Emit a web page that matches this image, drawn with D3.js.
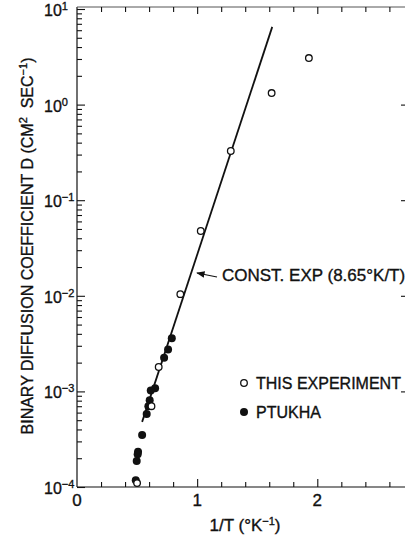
<!DOCTYPE html>
<html>
<head>
<meta charset="utf-8">
<script src="https://cdn.jsdelivr.net/npm/d3@7/dist/d3.min.js"></script>
<style>
  body { margin: 0; background: #fff; }
  svg text { font-family: "Liberation Sans", Arial, sans-serif; fill: #111; stroke: #111; stroke-width: 0.35; }
  .axis path, .axis line { stroke: #111; stroke-width: 1.1; }
</style>
</head>
<body>
<script>
// this experiment (open circles)
const exp_x = [0.50, 0.62, 0.68, 0.86, 1.03, 1.28, 1.62, 1.93]
const exp_d = [1.1e-4, 7.0e-4, 1.8e-3, 1.04e-2, 4.76e-2, 0.327, 1.32, 3.07]

// Ptukha (filled circles)
const ptu_x = [0.789, 0.758, 0.725, 0.65, 0.614, 0.605, 0.594, 0.58, 0.542, 0.508, 0.505, 0.497, 0.489]
const ptu_d = [3.59e-3, 2.75e-3, 2.25e-3, 1.08e-3, 1.02e-3, 8.1e-4, 7.0e-4, 5.8e-4, 3.5e-4, 2.34e-4, 2.2e-4, 1.87e-4, 1.18e-4]

// const exp(8.65 K/T) line end points
const line_x = [0.542, 1.625]
const line_d = [4.8e-4, 6.5]

const x_ticks = [0, 1, 2]
const y_decades = [1e-4, 1e-3, 1e-2, 1e-1, 1, 10]
const y_exps = ["-4", "-3", "-2", "-1", "0", "1"]

const width = 406, height = 537
const m_left = 77, m_right = 405, m_top = 9, m_bottom = 487

const svg = d3.select("body").append("svg")
	.attr("width", width)
	.attr("height", height)

const x = d3.scaleLinear().domain([0, 2.73]).range([m_left, m_right])
const y = d3.scaleLog().domain([1e-4, 10]).range([m_bottom, m_top])

// minor ticks
const x_minor = d3.range(0.2, 2.73, 0.2).filter(v => Math.abs(v - Math.round(v)) > 0.01)
const y_minor = []
y_decades.slice(0, -1).forEach(d => { for (let k = 2; k <= 9; k++) y_minor.push(d * k) })

// frame lines
svg.append("line").attr("x1", m_left).attr("x2", m_left).attr("y1", m_top - 2).attr("y2", m_bottom).attr("stroke", "#111").attr("stroke-width", 1.2)
svg.append("line").attr("x1", m_left).attr("x2", m_right).attr("y1", m_bottom).attr("y2", m_bottom).attr("stroke", "#111").attr("stroke-width", 1.2)
svg.append("line").attr("x1", m_left).attr("x2", m_right).attr("y1", m_top - 2).attr("y2", m_top - 2).attr("stroke", "#555").attr("stroke-width", 1)

// left axis
svg.append("g").classed("axis", true)
	.attr("transform", `translate(${m_left},0)`)
	.call(d3.axisLeft(y).tickValues(y_decades).tickSize(-8).tickFormat(""))
	.call(g => g.select(".domain").remove())
svg.append("g").classed("axis", true)
	.attr("transform", `translate(${m_left},0)`)
	.call(d3.axisLeft(y).tickValues(y_minor).tickSize(-5).tickFormat(""))
	.call(g => g.select(".domain").remove())

// right side decade ticks
svg.append("g").classed("axis", true)
	.attr("transform", `translate(${m_right},0)`)
	.call(d3.axisRight(y).tickValues(y_decades.slice(1, -1)).tickSize(-4).tickFormat(""))
	.call(g => g.select(".domain").remove())

// bottom axis
svg.append("g").classed("axis", true)
	.attr("transform", `translate(0,${m_bottom})`)
	.call(d3.axisBottom(x).tickValues([1, 2]).tickSize(-8).tickFormat(""))
	.call(g => g.select(".domain").remove())
svg.append("g").classed("axis", true)
	.attr("transform", `translate(0,${m_bottom})`)
	.call(d3.axisBottom(x).tickValues(x_minor).tickSize(-5).tickFormat(""))
	.call(g => g.select(".domain").remove())

// top axis
svg.append("g").classed("axis", true)
	.attr("transform", `translate(0,${m_top - 2})`)
	.call(d3.axisTop(x).tickValues([1, 2]).tickSize(-7).tickFormat(""))
	.call(g => g.select(".domain").remove())
svg.append("g").classed("axis", true)
	.attr("transform", `translate(0,${m_top - 2})`)
	.call(d3.axisTop(x).tickValues(x_minor).tickSize(-5).tickFormat(""))
	.call(g => g.select(".domain").remove())

// x tick labels
svg.append("g").selectAll("text")
	.data(x_ticks)
	.join("text")
	.attr("x", d => x(d))
	.attr("y", 506)
	.attr("text-anchor", "middle")
	.style("font-size", "17px")
	.text(d => d)

// y tick labels with superscripts
const ylab = svg.append("g").selectAll("text")
	.data(y_decades)
	.join("text")
	.attr("x", 44)
	.attr("y", d => y(d) + 7)
	.style("font-size", "16px")
ylab.append("tspan").text("10")
ylab.append("tspan")
	.attr("dy", -6)
	.style("font-size", "11px")
	.text((d, i) => y_exps[i].replace("-", "\u2212"))

// axis titles
const ytitle = svg.append("text")
	.attr("transform", "translate(33,246) rotate(-90)")
	.attr("text-anchor", "middle")
	.style("font-size", "16px")
ytitle.append("tspan").text("BINARY DIFFUSION COEFFICIENT D (CM")
ytitle.append("tspan").attr("dy", -6).style("font-size", "11px").text("2")
ytitle.append("tspan").attr("dy", 6).text("\u00a0 SEC")
ytitle.append("tspan").attr("dy", -6).style("font-size", "11px").text("\u22121")
ytitle.append("tspan").attr("dy", 6).text(")")

const xtitle = svg.append("text")
	.attr("x", 245)
	.attr("y", 531)
	.attr("text-anchor", "middle")
	.style("font-size", "17px")
xtitle.append("tspan").text("1/T (\u00b0K")
xtitle.append("tspan").attr("dy", -6).style("font-size", "11px").text("\u22121")
xtitle.append("tspan").attr("dy", 6).text(")")

// fitted line
svg.append("line")
	.attr("x1", x(line_x[0])).attr("y1", y(line_d[0]))
	.attr("x2", x(line_x[1])).attr("y2", y(line_d[1]))
	.attr("stroke", "#111")
	.attr("stroke-width", 1.8)

// annotation
svg.append("defs").append("marker")
	.attr("id", "arrow")
	.attr("viewBox", "0 0 10 10")
	.attr("refX", 9).attr("refY", 5)
	.attr("markerWidth", 7).attr("markerHeight", 7)
	.attr("orient", "auto")
	.append("path").attr("d", "M0,1 L10,5 L0,9 Z").attr("fill", "#111")
svg.append("line")
	.attr("x1", 217).attr("y1", 277)
	.attr("x2", 197).attr("y2", 273)
	.attr("stroke", "#111").attr("stroke-width", 1.2)
	.attr("marker-end", "url(#arrow)")
svg.append("text")
	.attr("x", 222).attr("y", 281)
	.style("font-size", "17px")
	.text("CONST. EXP (8.65\u00b0K/T)")

// points
svg.append("g").selectAll("circle")
	.data(ptu_x.map((v, i) => [v, ptu_d[i]]))
	.join("circle")
	.attr("cx", d => x(d[0])).attr("cy", d => y(d[1]))
	.attr("r", 4)
	.attr("fill", "#111")
svg.append("g").selectAll("circle")
	.data(exp_x.map((v, i) => [v, exp_d[i]]))
	.join("circle")
	.attr("cx", d => x(d[0])).attr("cy", d => y(d[1]))
	.attr("r", 3.3)
	.attr("fill", "#fff")
	.attr("stroke", "#111")
	.attr("stroke-width", 1.3)

// legend
const legend = svg.append("g")
legend.append("circle").attr("cx", 244).attr("cy", 383).attr("r", 3.3)
	.attr("fill", "#fff").attr("stroke", "#111").attr("stroke-width", 1.3)
legend.append("text").attr("x", 256).attr("y", 389).style("font-size", "16px").text("THIS EXPERIMENT")
legend.append("circle").attr("cx", 244).attr("cy", 412).attr("r", 4).attr("fill", "#111")
legend.append("text").attr("x", 256).attr("y", 418).style("font-size", "16px").text("PTUKHA")
</script>
</body>
</html>
